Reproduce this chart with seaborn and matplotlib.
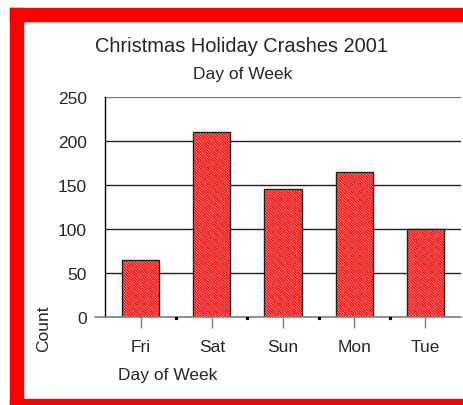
import matplotlib
matplotlib.use("Agg")
import matplotlib.pyplot as plt
import seaborn as sns
import pandas as pd
from matplotlib.patches import Rectangle

# Data
days = ["Fri", "Sat", "Sun", "Mon", "Tue"]
counts = [65, 210, 145, 165, 100]
y_ticks = [0, 50, 100, 150, 200, 250]

df = pd.DataFrame({"day": days, "count": counts})

sns.set_style("white")
plt.rcParams["font.family"] = ["Liberation Sans", "DejaVu Sans"]
plt.rcParams["hatch.linewidth"] = 0.5

W, H = 463, 406
fig = plt.figure(figsize=(W / 100, H / 100), dpi=100)
ax = fig.add_axes([105 / W, 1 - 318 / H, (461 - 105) / W, (318 - 98) / H])

# fill + hatch layer
sns.barplot(data=df, x="day", y="count", order=days, color="red",
            saturation=1, width=0.52, ax=ax, zorder=3)
for p in ax.patches:
    p.set_hatch("\\" * 12)
    p.set_edgecolor("#ffb0b0")
    p.set_linewidth(0)
# outline layer
sns.barplot(data=df, x="day", y="count", order=days, fill=False,
            width=0.52, ax=ax, zorder=4, edgecolor="#222222", linewidth=1)

ax.set_xlim(-0.5, 4.5)
ax.set_ylim(0, 250)
ax.set_yticks(y_ticks)
ax.yaxis.grid(True, color="#222222", linewidth=1, zorder=1)
for gl in ax.get_ygridlines()[-1:]:
    gl.set_color("#808080")
ax.set_axisbelow(True)

for s in ["top", "right", "bottom"]:
    ax.spines[s].set_visible(False)
ax.spines["left"].set_color("black")
ax.spines["left"].set_linewidth(1)

ax.tick_params(axis="y", length=10, width=1, color="#808080", pad=3, labelsize=12.5)
ax.tick_params(axis="x", length=8, width=1, color="#808080", direction="out",
               pad=8, labelsize=12.5, bottom=True)
# baseline extends left like the grid ticks
ax.plot([-0.64, 4.5], [0, 0], color="#808080", lw=1.2, clip_on=False, zorder=5)
# small marks between categories
for b in [0.5, 1.5, 2.5, 3.5]:
    ax.plot([b], [-0.8], marker="s", ms=1.3, color="black", clip_on=False, zorder=6)

ax.set_xlabel("")
ax.set_ylabel("")

fig.text(242 / W, 1 - 46 / H, "Christmas Holiday Crashes 2001", ha="center",
         va="center", fontsize=14.4)
fig.text(243 / W, 1 - 75 / H, "Day of Week", ha="center", va="center", fontsize=12.5)
fig.text(118 / W, 1 - 376 / H, "Day of Week", ha="left", va="center", fontsize=12.5)
fig.text(44 / W, 1 - 329 / H, "Count", ha="center", va="center", rotation=90,
         fontsize=12.5)

# red frame
fig.patches.append(Rectangle((10 / W, 0), 13 / W, 1 - 9 / H, transform=fig.transFigure,
                             color="red", zorder=0))
fig.patches.append(Rectangle((10 / W, 1 - 22 / H), 1, 13 / H, transform=fig.transFigure,
                             color="red", zorder=0))
fig.patches.append(Rectangle((10 / W, 0), 1, 6 / H, transform=fig.transFigure,
                             color="red", zorder=0))

fig.savefig("out.png", dpi=100)
